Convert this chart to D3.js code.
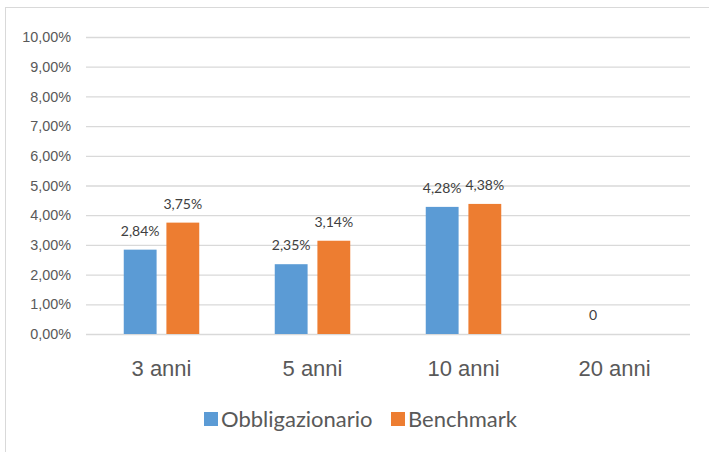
<!DOCTYPE html>
<html>
<head>
<meta charset="utf-8">
<script src="https://cdn.jsdelivr.net/npm/d3@7"></script>
<style>
  html, body { margin: 0; padding: 0; background: #fff; }
  svg { display: block; font-family: Lato, "Open Sans", sans-serif; }
</style>
</head>
<body>
<div id="chart"></div>
<script>
const categories = ['3 anni', '5 anni', '10 anni', '20 anni'];
const seriesNames = ['Obbligazionario', 'Benchmark'];
const obbligazionario = [2.84, 2.35, 4.28, 0];
const benchmark = [3.75, 3.14, 4.38, null];
const yTicks = [0, 1, 2, 3, 4, 5, 6, 7, 8, 9, 10];
const colors = ['#5b9bd5', '#ed7d31'];

const width = 709, height = 452;
const margin = { top: 37, right: 19, bottom: 118, left: 86 };

const it = d3.formatLocale({ decimal: ',', thousands: '.', grouping: [3], currency: ['', '€'] });
const pct = v => it.format('.2f')(v) + '%';

const svg = d3.select('#chart').append('svg')
    .attr('width', width)
    .attr('height', height);

// chart frame
svg.append('rect')
    .attr('x', 5.5).attr('y', 7.5)
    .attr('width', width + 10).attr('height', height + 10)
    .attr('fill', 'none')
    .attr('stroke', '#d9d9d9');

const x = d3.scaleBand()
    .domain(categories)
    .range([margin.left, width - margin.right]);

const inner = d3.scaleBand()
    .domain(seriesNames)
    .range([x.bandwidth() * 0.25, x.bandwidth() * 0.75])
    .paddingInner(0.23);

const y = d3.scaleLinear()
    .domain([0, 10])
    .range([height - margin.bottom, margin.top]);

// grid + y labels
const yAxis = svg.append('g')
    .attr('transform', `translate(${margin.left},0)`)
    .call(d3.axisLeft(y).tickValues(yTicks).tickSize(-(width - margin.left - margin.right)).tickPadding(15).tickFormat(pct));
yAxis.select('.domain').remove();
yAxis.selectAll('line').attr('stroke', '#d9d9d9').attr('stroke-width', 1.3);
yAxis.selectAll('text').attr('fill', '#595959').style('font-size', '14.4px');

// x labels
const xAxis = svg.append('g')
    .attr('transform', `translate(0,${height - margin.bottom})`)
    .call(d3.axisBottom(x).tickSize(0).tickPadding(26));
xAxis.select('.domain').remove();
xAxis.selectAll('text').attr('fill', '#595959').style('font-size', '22px');

const series = [obbligazionario, benchmark];

series.forEach((values, si) => {
    const g = svg.append('g');
    const data = values.map((v, i) => ({ cat: categories[i], v }));

    g.selectAll('rect')
        .data(data.filter(d => d.v))
        .join('rect')
        .attr('x', d => x(d.cat) + inner(seriesNames[si]))
        .attr('y', d => y(d.v))
        .attr('width', inner.bandwidth())
        .attr('height', d => y(0) - y(d.v))
        .attr('fill', colors[si]);

    g.selectAll('text')
        .data(data.filter(d => d.v !== null))
        .join('text')
        .attr('x', d => x(d.cat) + inner(seriesNames[si]) + inner.bandwidth() / 2)
        .attr('y', d => y(d.v) - 14)
        .attr('text-anchor', 'middle')
        .attr('fill', '#404040')
        .style('font-size', '14px')
        .text(d => d.v === 0 ? '0' : pct(d.v));
});

// legend
const legend = svg.append('g').attr('transform', `translate(0,419)`);
const legendX = [204, 391];
seriesNames.forEach((name, i) => {
    legend.append('rect')
        .attr('x', legendX[i]).attr('y', -7)
        .attr('width', 14).attr('height', 14)
        .attr('fill', colors[i]);
    legend.append('text')
        .attr('x', legendX[i] + 17).attr('y', 0)
        .attr('dy', '0.35em')
        .attr('fill', '#595959')
        .style('font-size', '22px')
        .text(name);
});
</script>
</body>
</html>
